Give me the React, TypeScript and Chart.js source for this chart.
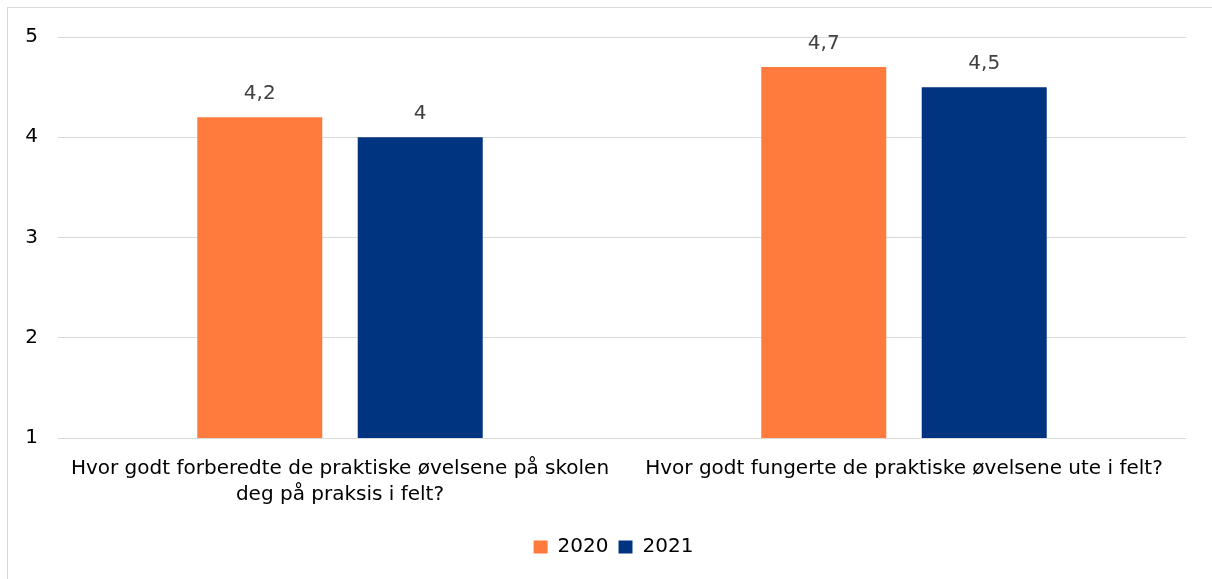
import React, { useEffect, useRef } from "react";
import { Chart, registerables } from "chart.js";

Chart.register(...registerables);

const categories: (string | string[])[] = [
  ["Hvor godt forberedte de praktiske øvelsene på skolen", "deg på praksis i felt?"],
  "Hvor godt fungerte de praktiske øvelsene ute i felt?",
];
const seriesNames = ["2020", "2021"];
const values2020 = [4.2, 4.7];
const values2021 = [4.0, 4.5];
const yMin = 1;
const yMax = 5;
const yStep = 1;

const ORANGE = "#FF7A3D";
const NAVY = "#003380";
const FONT = "'DejaVu Sans', sans-serif";

const valueLabels = {
  id: "valueLabels",
  afterDatasetsDraw(chart: any) {
    const ctx = chart.ctx;
    ctx.save();
    ctx.font = `20px ${FONT}`;
    ctx.fillStyle = "#404040";
    ctx.textAlign = "center";
    ctx.textBaseline = "alphabetic";
    chart.data.datasets.forEach((ds: any, di: number) => {
      const meta = chart.getDatasetMeta(di);
      meta.data.forEach((bar: any, i: number) => {
        const v = ds.data[i];
        const txt = String(v).replace(".", ",");
        ctx.fillText(txt, bar.x, bar.y - 18);
      });
    });
    ctx.restore();
  },
};

export default function App() {
  const ref = useRef<HTMLCanvasElement | null>(null);
  useEffect(() => {
    document.documentElement.style.overflow = "hidden";
    document.body.style.overflow = "hidden";
    const chart = new Chart(ref.current!, {
      type: "bar",
      data: {
        labels: categories,
        datasets: [
          { label: seriesNames[0], data: values2020, backgroundColor: ORANGE, categoryPercentage: 0.569, barPercentage: 0.779 },
          { label: seriesNames[1], data: values2021, backgroundColor: NAVY, categoryPercentage: 0.569, barPercentage: 0.779 },
        ],
      },
      options: {
        responsive: false,
        animation: false,
        devicePixelRatio: 1,
        layout: { padding: { left: 7, right: 0, top: 29, bottom: 12 } },
        plugins: {
          tooltip: { enabled: false },
          legend: {
            position: "bottom",
            labels: {
              font: { family: FONT, size: 20 },
              color: "#000000",
              boxWidth: 14,
              boxHeight: 13,
              padding: 10,
            },
          },
        },
        scales: {
          x: {
            grid: { display: false, drawTicks: false },
            border: { display: false },
            ticks: {
              font: { family: FONT, size: 20, lineHeight: 1.3 },
              color: "#000000",
              padding: 18,
              maxRotation: 0,
              autoSkip: false,
            },
            afterFit: (s: any) => { s.height = 89; },
          },
          y: {
            min: yMin,
            max: yMax,
            ticks: {
              stepSize: yStep,
              font: { family: FONT, size: 20 },
              color: "#000000",
              padding: 20,
            },
            grid: { color: "#d9d9d9", lineWidth: 1, drawTicks: false },
            border: { display: false },
            afterFit: (s: any) => { s.width = 43; s.paddingTop = 0; s.paddingBottom = 0; },
          },
          yRight: {
            type: "linear",
            position: "right",
            display: true,
            grid: { display: false, drawTicks: false },
            border: { display: false },
            ticks: { display: false },
            afterFit: (s: any) => { s.width = 26; s.paddingTop = 0; s.paddingBottom = 0; },
          },
        },
      },
      plugins: [valueLabels],
    });
    return () => chart.destroy();
  }, []);
  return (
    <div
      style={{
        position: "fixed",
        left: 7,
        top: 7,
        width: 1230,
        height: 600,
        border: "1px solid #d9d9d9",
        boxSizing: "border-box",
        background: "#fff",
      }}
    >
      <canvas ref={ref} width={1204} height={571} style={{ display: "block", width: 1204, height: 571 }} />
    </div>
  );
}
